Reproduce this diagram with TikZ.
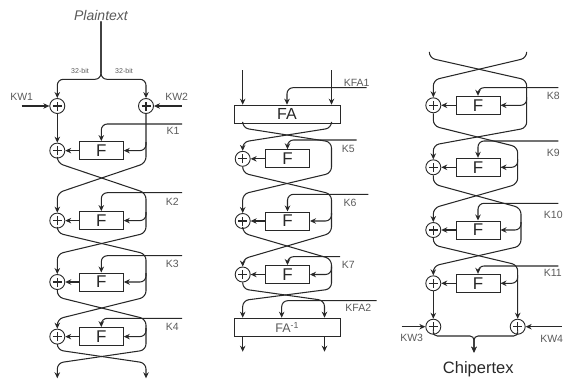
\documentclass[tikz,border=0pt]{standalone}
\usepackage{fontspec}
\setmainfont{Liberation Sans}
\usetikzlibrary{arrows.meta}
\definecolor{lc}{RGB}{40,40,40}
\definecolor{tc}{RGB}{90,90,90}
\begin{document}
\begin{tikzpicture}[x=1pt,y=-1pt,
  ln/.style={draw=lc, line width=1.05pt, rounded corners=6pt},
  arr/.style={ln, -{Stealth[length=6pt,width=5.5pt]}},
  xor/.style={circle, draw=lc, line width=0.9pt, minimum size=15pt, inner sep=0pt,
    path picture={\draw[lc,line width=1.2pt]
      ([xshift=-4.5pt]path picture bounding box.center) -- ([xshift=4.5pt]path picture bounding box.center)
      ([yshift=-4.5pt]path picture bounding box.center) -- ([yshift=4.5pt]path picture bounding box.center);}},
  fbox/.style={draw=lc, line width=1pt, minimum width=44pt, minimum height=18pt, inner sep=0pt,
    font=\fontsize{17}{17}\selectfont, text=lc},
  fabox/.style={fbox, minimum width=106pt, font=\fontsize{16}{16}\selectfont},
  lab/.style={text=tc, font=\fontsize{10.5}{11}\selectfont, inner sep=0pt},
]
\useasboundingbox (0,0) rectangle (568,381);

% ================= Column 1 =================
\node[text=tc, font=\itshape\fontsize{14}{14}\selectfont, inner sep=1pt] (pt) at (101,15) {Plaintext};
\coordinate (ps) at (101,79.3);
\node[lab, font=\fontsize{7}{7}\selectfont] (b1) at (80,70.7) {32-bit};
\node[lab, font=\fontsize{7}{7}\selectfont] (b2) at (124,70.7) {32-bit};
\node[xor] (W1) at (57.3,106) {};
\node[xor] (W2) at (146,106) {};
\draw[arr] (pt.south) -- (ps) -| (W1);
\draw[arr] (pt.south) -- (ps) -| (W2);
\node[lab] (lkw1) at (21.7,96.7) {KW1};
\node[lab] (lkw2) at (176.7,96.7) {KW2};
\coordinate (kw1) at (21.7,106);
\coordinate (kw2) at (181.7,106);
\draw[arr] (kw1) -- (W1);
\draw[arr] (kw2) -- (W2);

\node[xor] (X1) at (57.3,150.6) {};
\node[xor] (X2) at (57.3,220.6) {};
\node[xor] (X3) at (57.3,282) {};
\node[xor] (X4) at (57.3,336.6) {};
\node[fbox] (F1) at (101.3,150.6) {F};
\node[fbox] (F2) at (101.3,220.6) {F};
\node[fbox] (F3) at (101.3,282) {F};
\node[fbox] (F4) at (101.3,336.6) {F};
\foreach \i in {1,...,4} {\draw[arr] (F\i) -- (X\i);}

\draw[arr] (W1) -- (X1);
\draw[arr] (W2.south) -- (146,163) -- (57.3,193) -- (X2.north);
\draw[arr] (X1.south) -- (57.3,163) -- (146,193) -- (146,233) -- (57.3,254) -- (X3.north);
\draw[arr] (X2.south) -- (57.3,233) -- (146,254) -- (146,297) -- (57.3,319) -- (X4.north);
\coordinate (o1) at (57.3,378.3);
\coordinate (o2) at (146,378.3);
\draw[arr] (X3.south) -- (57.3,297) -- (146,319) -- (146,350) -- (57.3,363) -- (o1);
\draw[arr] (X4.south) -- (57.3,350) -- (146,363) -- (o2);

\coordinate (r1) at (146,142);
\coordinate (r2) at (146,212);
\coordinate (r3) at (146,273);
\coordinate (r4) at (146,328);
\foreach \i in {1,...,4} {\draw[arr] (r\i) |- (F\i.east);}

\coordinate (k1) at (182,124);
\coordinate (k2) at (182,192.7);
\coordinate (k3) at (182,255.7);
\coordinate (k4) at (182,318.3);
\foreach \i in {1,...,4} {\draw[arr] (k\i) -| (F\i.north);}
\node[lab] at (173,131) {K1};
\node[lab] at (172.3,202) {K2};
\node[lab] at (172.3,264) {K3};
\node[lab] at (172.3,326.7) {K4};

% ================= Column 2 =================
\coordinate (a1) at (242.7,70);
\coordinate (a2) at (331.5,70);
\node[fabox] (FA) at (287,114.2) {FA};
\draw[arr] (a1) -- (FA.north -| a1);
\draw[arr] (a2) -- (FA.north -| a2);
\coordinate (kf1) at (366.7,87.7);
\draw[arr] (kf1) -| (FA.north);
\node[lab] at (356.7,82.5) {KFA1};

\node[xor] (X5) at (242.7,158.8) {};
\node[xor] (X6) at (242.7,221) {};
\node[xor] (X7) at (242.7,274.5) {};
\node[fbox] (F5) at (287.5,158.8) {F};
\node[fbox] (F6) at (287.5,221) {F};
\node[fbox] (F7) at (287.5,274.5) {F};
\foreach \i in {5,6,7} {\draw[arr] (F\i) -- (X\i);}

\node[fabox, text=tc, font=\fontsize{12.5}{12.5}\selectfont] (FAi) at (287.2,327.2) {FA\textsuperscript{-1}};
\coordinate (o3) at (242.7,351.7);
\coordinate (o4) at (324.5,351.7);

\draw[arr] (FA.south -| a1) -- (242.7,128) -- (331.5,142) -- (331.5,173) -- (242.7,194) -- (X6.north);
\draw[arr] (FA.south -| a2) -- (331.5,128) -- (242.7,142) -- (X5.north);
\draw[arr] (X5.south) -- (242.7,173) -- (331.5,194) -- (331.5,233) -- (242.7,259) -- (X7.north);
\draw[arr] (X6.south) -- (242.7,233) -- (331.5,259) -- (331.5,289) -- (242.7,300.5) -- (FAi.north -| o3);
\draw[arr] (X7.south) -- (242.7,289) -- (324.5,300.5) -- (FAi.north -| o4);

\coordinate (r6) at (331.5,213);
\coordinate (r7) at (331.5,266.5);
\draw[arr] (r6) |- (F6.east);
\draw[arr] (r7) |- (F7.east);

\coordinate (k5) at (356.7,140);
\coordinate (k6) at (368.3,194.3);
\coordinate (k7) at (340,256.7);
\foreach \i in {5,6,7} {\draw[arr] (k\i) -| (F\i.north);}
\node[lab] at (348.3,149.3) {K5};
\node[lab] at (350,202.7) {K6};
\node[lab] at (348.3,265) {K7};

\coordinate (kf2) at (376.7,300.7);
\draw[arr] (kf2) -| ([xshift=-5.5pt]FAi.north);
\node[lab] at (358.3,308.3) {KFA2};
\draw[arr] (FAi.south -| o3) -- (o3);
\draw[arr] (FAi.south -| o4) -- (o4);

% ================= Column 3 =================
\coordinate (t1) at (429.3,52.7);
\coordinate (t2) at (526.7,52.7);
\node[xor] (X8) at (433.3,105.3) {};
\node[xor] (X9) at (433.3,167.3) {};
\node[xor] (X10) at (433.3,230) {};
\node[xor] (X11) at (433.3,283.3) {};
\node[fbox] (F8) at (478,105.3) {F};
\node[fbox] (F9) at (478,167.3) {F};
\node[fbox] (F10) at (478,230) {F};
\node[fbox] (F11) at (478,283.3) {F};
\foreach \i in {8,...,11} {\draw[arr] (F\i) -- (X\i);}
\node[xor] (W3) at (433.3,326.7) {};
\node[xor] (W4) at (517.7,326.7) {};

\draw[arr] (t1) -- (429.3,58) -- (526.7,80) -- (526.7,128) -- (433.3,145) -- (X9.north);
\draw[arr] (t2) -- (526.7,58) -- (433.3,80) -- (X8.north);
\draw[arr] (X8.south) -- (433.3,126) -- (517.7,147) -- (517.7,184) -- (433.3,208) -- (X10.north);
\draw[arr] (X9.south) -- (433.3,184) -- (521,208) -- (521,246) -- (433.3,266) -- (X11.north);
\draw[arr] (X10.south) -- (433.3,245) -- (517.7,265) -- (W4.north);
\draw[arr] (X11) -- (W3);

\coordinate (r8) at (526.7,97);
\coordinate (r9) at (517.7,159);
\coordinate (r10) at (521,222);
\coordinate (r11) at (517.7,275);
\foreach \i in {8,...,11} {\draw[arr] (r\i) |- (F\i.east);}

\coordinate (k8) at (558.3,87.7);
\coordinate (k9) at (558.3,141);
\coordinate (k10) at (558.3,203.3);
\coordinate (k11) at (558.3,266);
\foreach \i in {8,...,11} {\draw[arr] (k\i) -| (F\i.north);}
\node[lab] at (553.3,96) {K8};
\node[lab] at (553.3,153.3) {K9};
\node[lab] at (553.3,215) {K10};
\node[lab] at (552.7,273.3) {K11};

\coordinate (kw3) at (401.7,326.7);
\coordinate (kw4) at (561.7,326.7);
\draw[arr] (kw3) -- (W3);
\draw[arr] (kw4) -- (W4);
\node[lab] at (411.7,338.3) {KW3};
\node[lab] at (551.7,339.3) {KW4};

\coordinate (cb) at (474,352.7);
\draw[arr, rounded corners=4pt] (W3.south) -- (433.3,336) -- (474,336) -- (cb);
\draw[arr, rounded corners=4pt] (W4.south) -- (517.7,336) -- (474,336) -- (cb);
\node[text=lc, font=\fontsize{16.5}{17}\selectfont, inner sep=0pt] (ct) at (478.3,369.3) {Chipertex};
\end{tikzpicture}
\end{document}
